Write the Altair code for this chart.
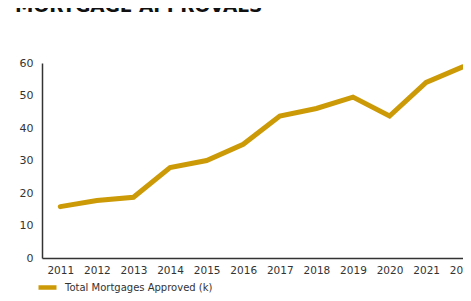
import altair as alt
import pandas as pd

years = ["2011", "2012", "2013", "2014", "2015", "2016", "2017", "2018", "2019", "2020", "2021", "2022"]
approved = [15.8, 17.7, 18.7, 27.8, 30.0, 35.0, 43.7, 46.0, 49.5, 43.7, 54.0, 58.8]
series_name = "Total Mortgages Approved (k)"
title_text = "MORTGAGE APPROVALS"

df = pd.DataFrame({"year": years, "value": approved, "series": [series_name] * len(years)})

FONT = "DejaVu Sans"

line = alt.Chart(df).mark_line(strokeWidth=5, strokeCap="round", strokeJoin="miter").encode(
    x=alt.X("year:O", sort=years, title=None,
            scale=alt.Scale(range=[0, 439]),
            axis=alt.Axis(labelAngle=0, ticks=False, domainColor="#333333", domainWidth=1.5,
                          labelColor="#333333", labelFontSize=10.5, labelFont=FONT,
                          labelPadding=7)),
    y=alt.Y("value:Q", title=None,
            scale=alt.Scale(domain=[0, 60]),
            axis=alt.Axis(values=[0, 10, 20, 30, 40, 50, 60], ticks=False, grid=False,
                          domainColor="#333333", domainWidth=1.5,
                          labelColor="#333333", labelFontSize=11, labelFont=FONT,
                          labelPadding=9)),
    color=alt.Color("series:N", title=None,
                    scale=alt.Scale(range=["#CC9A06"]),
                    legend=alt.Legend(orient="none", legendX=-6, legendY=213,
                                      symbolType="stroke", symbolSize=324,
                                      symbolStrokeWidth=4.5, labelFontSize=10,
                                      labelFont=FONT, labelColor="#333333",
                                      labelOffset=6)),
)

title_df = pd.DataFrame({"t": [title_text]})
title = alt.Chart(title_df).mark_text(
    align="left", baseline="alphabetic", fontSize=18.5, fontWeight="bold",
    font=FONT, color="#111111"
).encode(
    text="t:N",
    x=alt.value(-27),
    y=alt.value(-51.5),
)

chart = alt.layer(line, title).properties(
    width=421, height=195,
    background="white",
    autosize=alt.AutoSizeParams(type="none"),
    padding={"left": 34, "top": 55, "right": 0, "bottom": 35},
).configure_view(stroke="transparent")

chart.save("out.html", embed_options={"renderer": "svg", "actions": False})
